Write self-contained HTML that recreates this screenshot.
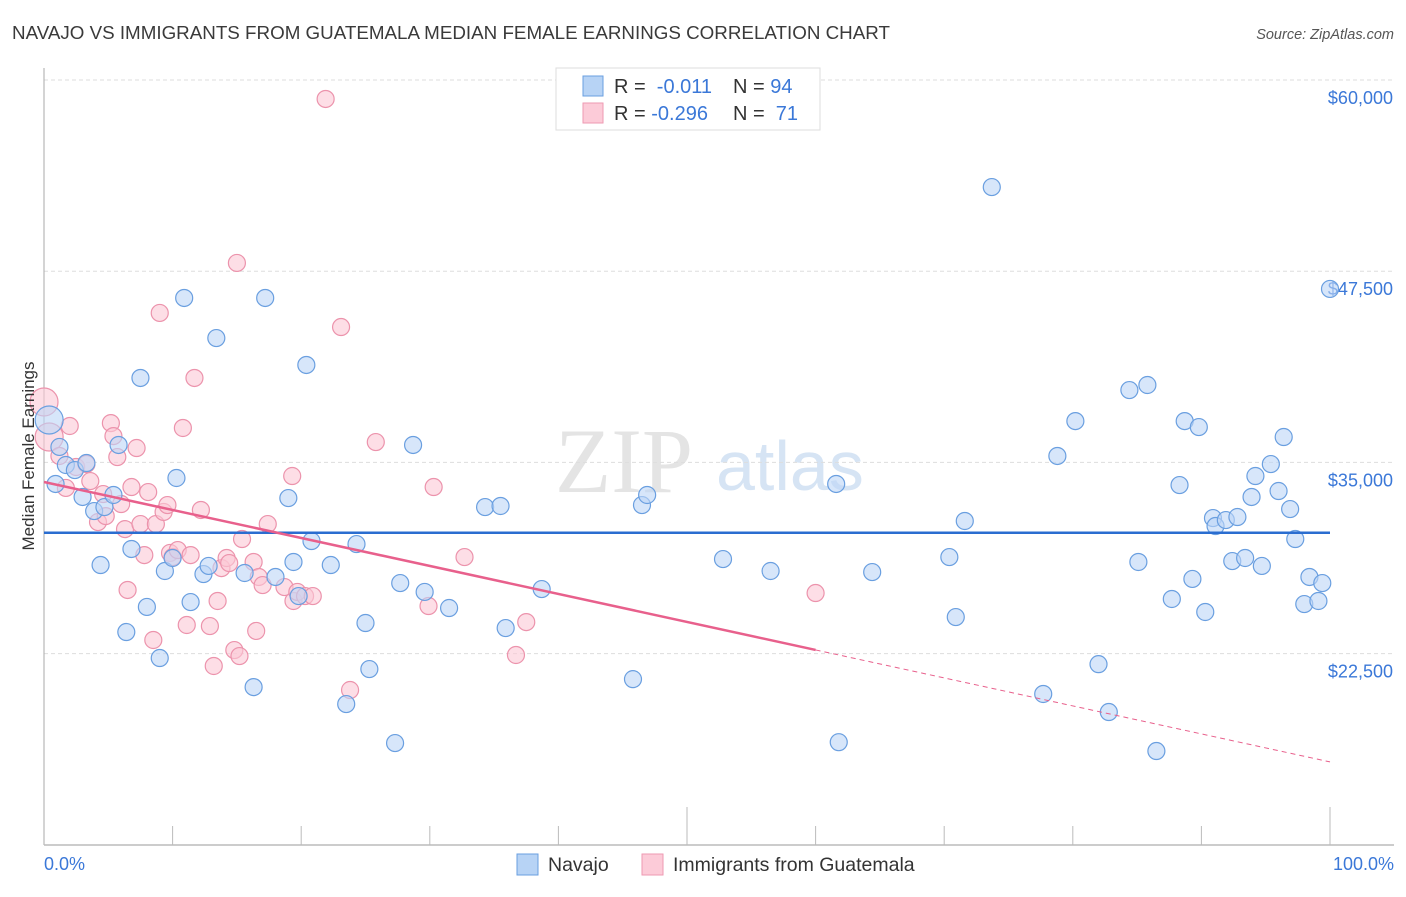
<!DOCTYPE html>
<html><head><meta charset="utf-8"><style>
body{margin:0;background:#fff;font-family:"Liberation Sans",sans-serif}
</style></head><body>
<svg id="chart" width="1406" height="892" xmlns="http://www.w3.org/2000/svg">
<text x="12" y="39" font-size="18.8" fill="#3a3a3a" font-family="Liberation Sans, sans-serif">NAVAJO VS IMMIGRANTS FROM GUATEMALA MEDIAN FEMALE EARNINGS CORRELATION CHART</text>
<text x="1394" y="39" font-size="14.5" fill="#555" text-anchor="end" font-style="italic">Source: ZipAtlas.com</text>
<text x="555" y="492" font-size="92" fill="#e4e4e4" font-family="Liberation Serif, serif">ZIP</text>
<text x="716" y="490" font-size="70" fill="#d6e4f4">atlas</text>
<g id="grid"></g><g id="axes"></g><g id="pts"></g><g id="trend"></g>
<text transform="translate(34,456) rotate(-90)" text-anchor="middle" font-size="17" fill="#333">Median Female Earnings</text>
<text x="44" y="870" font-size="18" fill="#3b78d8">0.0%</text>
<text x="1394" y="870" font-size="18" fill="#3b78d8" text-anchor="end">100.0%</text>
<g>
<rect x="517" y="854" width="21" height="21" fill="#b7d3f5" stroke="#6a9fe0"/>
<text x="548" y="871" font-size="19.5" fill="#333">Navajo</text>
<rect x="642" y="854" width="21" height="21" fill="#fccbd8" stroke="#ee9ab2"/>
<text x="673" y="871" font-size="19.5" fill="#333">Immigrants from Guatemala</text>
</g>
<g>
<rect x="556" y="68" width="264" height="62" fill="#fff" stroke="#ddd"/>
<rect x="583" y="76" width="20" height="20" fill="#b7d3f5" stroke="#6a9fe0"/>
<rect x="583" y="103" width="20" height="20" fill="#fccbd8" stroke="#ee9ab2"/>
<text x="614" y="93" font-size="20" fill="#333">R = <tspan fill="#3b78d8">&#160;-0.011</tspan><tspan x="733">N = </tspan><tspan fill="#3b78d8">94</tspan></text>
<text x="614" y="120" font-size="20" fill="#333">R = <tspan fill="#3b78d8">-0.296</tspan><tspan x="733">N = </tspan><tspan fill="#3b78d8">&#160;71</tspan></text>
</g>
</svg>
<script>
const yTicks=[60000,47500,35000,22500];
const yTickLabels=["$60,000","$47,500","$35,000","$22,500"];
const navajoX=[0.4,0.9,1.2,1.7,2.4,3.0,3.3,3.9,4.4,4.7,5.4,5.8,6.4,6.8,7.5,8.0,9.0,9.4,10.0,10.3,10.9,11.4,12.4,12.8,13.4,15.6,16.3,17.2,18.0,19.0,19.4,19.8,20.4,20.8,22.3,23.5,24.3,25.0,25.3,27.3,27.7,28.7,29.6,31.5,34.3,35.5,35.9,38.7,45.8,46.5,46.9,52.8,56.5,61.6,61.8,64.4,70.4,70.9,71.6,73.7,77.7,78.8,80.2,82.0,82.8,84.4,85.1,85.8,86.5,87.7,88.3,88.7,89.3,89.8,90.3,90.9,91.1,91.9,92.4,92.8,93.4,93.9,94.2,94.7,95.4,96.0,96.4,96.9,97.3,98.0,98.4,99.1,99.4,100.0];
const navajoY=[37770,33590,36010,34830,34500,32740,34960,31820,28290,32080,32870,36140,23910,29340,40520,25550,22210,27900,28750,33980,45750,25870,27700,28230,43130,27770,20310,45750,27510,32670,28490,26260,41370,29860,28290,19200,29660,24500,21490,16650,27110,36140,26530,25480,32080,32150,24170,26720,20830,32210,32870,28680,27900,33590,16710,27830,28810,24890,31170,53000,19860,35420,37700,21810,18680,39730,28490,40060,16130,26070,33520,37700,27380,37310,25220,31360,30840,31230,28550,31430,28750,32740,34110,28230,34890,33130,36660,31950,29990,25740,27510,25940,27110,46340];
const guatX=[0.0,0.4,1.2,1.7,2.0,2.5,3.3,3.6,4.2,4.6,4.8,5.2,5.4,5.7,6.0,6.3,6.5,6.8,7.2,7.5,7.8,8.1,8.5,8.7,9.0,9.3,9.6,9.8,10.0,10.4,10.8,11.1,11.4,11.7,12.2,12.9,13.2,13.5,13.8,14.2,14.4,14.8,15.0,15.2,15.4,16.3,16.5,16.7,17.0,17.4,18.7,19.3,19.4,19.7,20.3,20.9,21.9,23.1,23.8,25.8,29.9,30.3,32.7,36.7,37.5,60.0];
const guatY=[38950,36660,35420,33330,37380,34700,34890,33780,31100,32930,31490,37570,36720,35350,32280,30640,26660,33390,35940,30970,28940,33060,23390,30970,44770,31760,32210,29080,28810,29270,37250,24370,28940,40520,31890,24300,21690,25940,28090,28750,28420,22730,48040,22340,29990,28490,23980,27510,26980,30970,26850,34110,25940,26530,26260,26260,58760,43850,20120,36330,25610,33390,28810,22410,24560,26460];
const navajoTrend=[30400,30400];
const guatTrendStart=33720, guatTrendSlope=-183;
const X=p=>44+p*12.86, Y=v=>80+(60000-v)*191.2/12500;
const NS="http://www.w3.org/2000/svg";
function mk(t,a,parent){const e=document.createElementNS(NS,t);for(const k in a)e.setAttribute(k,a[k]);document.getElementById(parent).appendChild(e);return e;}
yTicks.forEach((v,i)=>{
 const l=mk('line',{x1:44,x2:1394,y1:Y(v),y2:Y(v),stroke:'#ddd','stroke-dasharray':'4,3'},'grid');
 
 
 const t=mk('text',{x:1393,y:Y(v)+24,'font-size':18,fill:'#3b78d8','text-anchor':'end'},'grid');
 t.textContent=yTickLabels[i];
 
 
});
const ax=mk('line',{x1:44,x2:44,y1:68,y2:845,stroke:'#aaa'},'axes');


const bx=mk('line',{x1:44,x2:1394,y1:845,y2:845,stroke:'#bbb','stroke-width':1.5},'axes');


for(let i=1;i<=10;i++){
 const tk=mk('line',{x1:X(i*10),x2:X(i*10),y1:(i==5||i==10)?807:826,y2:845,stroke:'#bbb'},'axes');
 
 
}
function dots(xs,ys,fill,stroke,name){
 xs.forEach((x,i)=>{
  const big=(x<0.5);
  const c=mk('circle',{cx:X(x),cy:Y(ys[i]),r:big?14:8.5,fill:fill,'fill-opacity':0.6,stroke:stroke,'stroke-width':1.2},'pts');
  
  
 });
}
dots(guatX,guatY,'#fcc8d6','#ec93ac','guatemala-point');
dots(navajoX,navajoY,'#bcd5f6','#6a9fe0','navajo-point');
const nl=mk('line',{x1:X(0),x2:X(100),y1:Y(navajoTrend[0]),y2:Y(navajoTrend[1]),stroke:'#2a6dd0','stroke-width':2.5},'trend');


const gv=p=>guatTrendStart+guatTrendSlope*p;
const gl=mk('line',{x1:X(0),x2:X(60),y1:Y(gv(0)),y2:Y(gv(60)),stroke:'#e8608c','stroke-width':2.5},'trend');


const gd=mk('line',{x1:X(60),x2:X(100),y1:Y(gv(60)),y2:Y(gv(100)),stroke:'#e8608c','stroke-width':1,'stroke-dasharray':'5,4'},'trend');


</script>
</body></html>
